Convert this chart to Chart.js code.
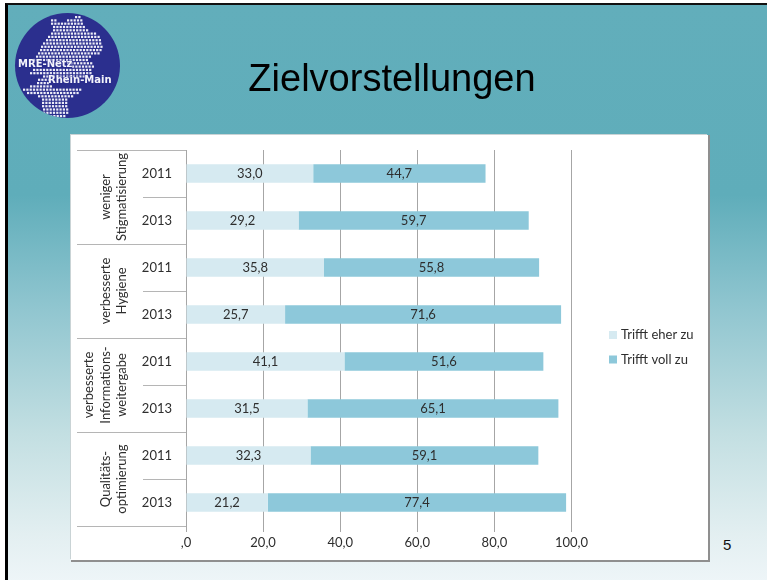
<!DOCTYPE html>
<html lang="de">
<head>
<meta charset="utf-8">
<title>Zielvorstellungen</title>
<script src="https://cdn.jsdelivr.net/npm/chart.js@4"></script>
<style>
html, body { margin: 0; padding: 0; background: #fff; }
#slide {
    position: absolute; left: 5px; top: 3px; width: 762px; height: 577px;
    box-sizing: border-box; border-left: 3px solid #000; border-top: 2px solid #111;
    background: linear-gradient(to bottom, #62aebb 0, #5fadba 190px, #8fc5cf 300px, #c3dfe2 430px, #e3eff1 530px, #eef5f8 577px);
    overflow: hidden;
}
#title {
    position: absolute; left: 144px; top: 52px; width: 480px; text-align: center;
    font: 38px "Liberation Sans", Arial, sans-serif; color: #000;
}
#pageNo { position: absolute; left: 715px; top: 531px; font: 15px "Liberation Sans", Arial, sans-serif; color: #111; }
#card {
    position: absolute; left: 63px; top: 130px; width: 637px; height: 425px;
    background: #fff; box-shadow: 1px 1px 0 1px #8f8f8f, -1px -1px 0 #c9d3d5;
}
#logo { position: absolute; left: 7px; top: 8px; width: 105px; height: 105px; border-radius: 50%; background: #2b2f8e; overflow: hidden; }
#logo canvas { position: absolute; left: 0; top: 0; }
#logo span { position: absolute; color: #f4f4fb; font: bold 10px "DejaVu Sans", sans-serif; white-space: nowrap; text-shadow: 0 0 2px #2b2f8e, 0 0 2px #2b2f8e; }
</style>
</head>
<body>
<div id="slide">
    <div id="logo">
        <canvas id="logoDots" width="105" height="105"></canvas>
        <span style="left:3px;top:45px">MRE-Netz</span>
        <span style="left:33px;top:61px">Rhein-Main</span>
    </div>
    <div id="title">Zielvorstellungen</div>
    <div id="card"><canvas id="chart" width="637" height="425"></canvas></div>
    <div id="pageNo">5</div>
</div>
<script>
const years = ['2011', '2013', '2011', '2013', '2011', '2013', '2011', '2013'];
const groupLabels = [
    ['weniger', 'Stigmatisierung'],
    ['verbesserte', 'Hygiene'],
    ['verbesserte', 'Informations-', 'weitergabe'],
    ['Qualitäts-', 'optimierung']
];
const eherZu = [33.0, 29.2, 35.8, 25.7, 41.1, 31.5, 32.3, 21.2];
const vollZu = [44.7, 59.7, 55.8, 71.6, 51.6, 65.1, 59.1, 77.4];
const xTicks = [',0', '20,0', '40,0', '60,0', '80,0', '100,0'];

// dot rows of the logo map: [first x, last x] per row, every 3.3px
const mapRows = [
    [60, 66], [36, 40, 52, 66], [36, 68], [38, 70], [38, 73], [36, 80], [33, 83], [31, 85], [28, 87], [26, 87],
    [25, 85], [23, 83], [21, 77], [18, 73], [52, 77], [57, 77], [18, 75], [15, 75], [28, 70], [23, 34],
    [22, 34], [15, 36], [8, 65], [12, 63], [23, 58], [27, 52], [27, 53], [27, 53], [28, 52], [28, 52], [35, 50]
];

const dotCtx = document.getElementById('logoDots').getContext('2d');
dotCtx.fillStyle = '#eeeef8';
mapRows.forEach((row, i) => {
    for (let r = 0; r < row.length; r += 2) {
        for (let x = row[r]; x <= row[r + 1]; x += 3.3) {
            dotCtx.fillRect(x, 3 + i * 3.3, 2.2, 2.2);
        }
    }
});

const font = '"Lato", "Open Sans", sans-serif';

// year separators and group labels on the left of the axis
const groupPlugin = {
    id: 'groupPlugin',
    beforeDatasetsDraw(chart) {
        const y = chart.scales.y;
        const band = y.getPixelForValue(1) - y.getPixelForValue(0);
        const ctx = chart.ctx;
        ctx.save();
        ctx.strokeStyle = '#b5b5b5';
        ctx.lineWidth = 1;
        years.forEach((yr, i) => {
            const py = Math.round(y.getPixelForValue(i) - band / 2) + 0.5;
            ctx.beginPath();
            ctx.moveTo(i % 2 === 0 ? 6 : 72, py);
            ctx.lineTo(chart.chartArea.left, py);
            ctx.stroke();
        });
        const bottom = Math.round(chart.chartArea.bottom) + 0.5;
        ctx.beginPath();
        ctx.moveTo(6, bottom);
        ctx.lineTo(chart.chartArea.left, bottom);
        ctx.stroke();

        ctx.fillStyle = '#2e2e2e';
        ctx.font = '13px ' + font;
        ctx.textAlign = 'center';
        ctx.textBaseline = 'middle';
        groupLabels.forEach((lines, g) => {
            const cy = y.getPixelForValue(g * 2) + band / 2;
            lines.forEach((line, l) => {
                const cx = 51 - (lines.length - 1 - l) * 16.5;
                ctx.save();
                ctx.translate(cx, cy);
                ctx.rotate(-Math.PI / 2);
                ctx.fillText(line, 0, 0);
                ctx.restore();
            });
        });
        ctx.restore();
    }
};

// values in the middle of each bar segment
const valuePlugin = {
    id: 'valuePlugin',
    afterDatasetsDraw(chart) {
        const ctx = chart.ctx;
        ctx.save();
        ctx.fillStyle = '#2e2e2e';
        ctx.font = '13px ' + font;
        ctx.textAlign = 'center';
        ctx.textBaseline = 'middle';
        chart.data.datasets.forEach((ds, d) => {
            chart.getDatasetMeta(d).data.forEach((bar, i) => {
                const mid = (bar.x + bar.base) / 2;
                ctx.fillText(ds.data[i].toFixed(1).replace('.', ','), mid, bar.y);
            });
        });
        ctx.restore();
    }
};

// legend sits further from the plot than the built in one allows
const legendPlugin = {
    id: 'legendPlugin',
    afterDraw(chart) {
        const ctx = chart.ctx;
        ctx.save();
        ctx.font = '13px ' + font;
        ctx.textBaseline = 'middle';
        chart.data.datasets.forEach((ds, d) => {
            const py = 200 + d * 24.5;
            ctx.fillStyle = ds.backgroundColor;
            ctx.fillRect(538, py - 4, 8, 8);
            ctx.fillStyle = '#2e2e2e';
            ctx.fillText(ds.label, 550, py);
        });
        ctx.restore();
    }
};

new Chart(document.getElementById('chart').getContext('2d'), {
    type: 'bar',
    data: {
        labels: years,
        datasets: [
            { label: 'Trifft eher zu', data: eherZu, backgroundColor: '#d6eaf1', barPercentage: 0.39, categoryPercentage: 1 },
            { label: 'Trifft voll zu', data: vollZu, backgroundColor: '#8dc8da', barPercentage: 0.39, categoryPercentage: 1 }
        ]
    },
    options: {
        indexAxis: 'y',
        responsive: false,
        animation: false,
        layout: { autoPadding: false, padding: { left: 0, top: 15, right: 136.5, bottom: 0 } },
        plugins: { legend: { display: false }, tooltip: { enabled: false } },
        scales: {
            x: {
                stacked: true,
                min: 0,
                max: 100,
                afterFit: s => { s.height = 34; s.paddingTop = 0; s.paddingBottom = 0; },
                grid: { color: '#a6a6a6', tickLength: 6 },
                border: { display: false },
                ticks: {
                    stepSize: 20,
                    maxRotation: 0,
                    padding: 3,
                    color: '#2e2e2e',
                    font: { family: font, size: 13 },
                    callback: (v, i) => xTicks[i]
                }
            },
            y: {
                stacked: true,
                afterFit: s => { s.width = 115; s.paddingTop = 0; s.paddingBottom = 0; },
                grid: { display: false, drawTicks: false },
                border: { color: '#a6a6a6' },
                ticks: { padding: 14, color: '#2e2e2e', font: { family: font, size: 13 } }
            }
        }
    },
    plugins: [groupPlugin, valuePlugin, legendPlugin]
});
</script>
</body>
</html>
